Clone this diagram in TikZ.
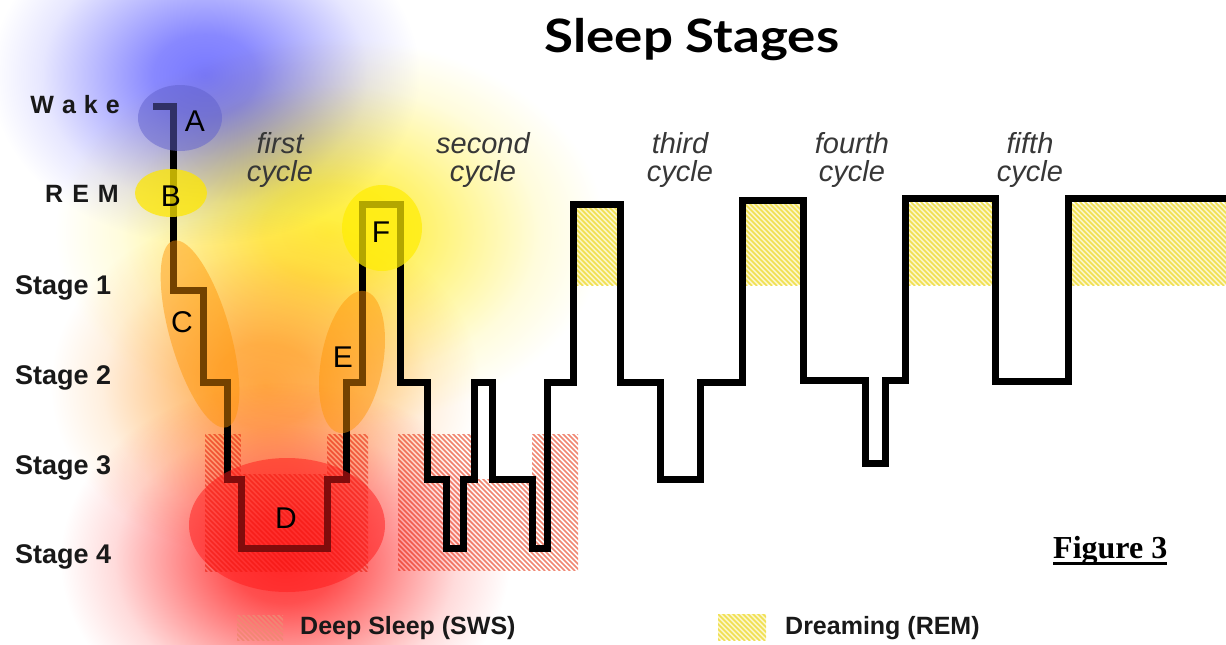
\documentclass[tikz,border=0pt]{standalone}
\usepackage{fontspec}
\setmainfont{Liberation Sans}
\newfontfamily\titlef{Lato}
\newfontfamily\serifb{Liberation Serif}
\definecolor{gblue}{RGB}{120,120,255}
\definecolor{gyellow}{RGB}{255,238,60}
\definecolor{gorange}{RGB}{255,168,72}
\definecolor{gred}{RGB}{255,55,55}
\definecolor{hatchred}{RGB}{240,135,115}
\definecolor{hatchyel}{RGB}{240,224,80}
\definecolor{paleyel}{RGB}{252,246,200}
\definecolor{cyclegray}{RGB}{55,55,55}
\definecolor{ink}{RGB}{25,25,25}
\newcommand\defglow[2]{%
  \pgfdeclareradialshading{#1}{\pgfpointorigin}{color(0bp)=(#2); color(6bp)=(#2!88!white); color(13bp)=(#2!50!white); color(19bp)=(#2!18!white); color(25bp)=(white); color(50bp)=(white)}}
\defglow{glowblue}{gblue}
\defglow{glowyellow}{gyellow}
\defglow{gloworange}{gorange}
\defglow{glowred}{gred}
\newcommand\hatchrect[5]{%
  \begin{scope}
    \clip (#1,#2) rectangle (#3,#4);
    \pgfmathsetmacro\hh{(#4)-(#2)}
    \pgfmathtruncatemacro\nn{((#3)-(#1)+(#4)-(#2))/5+2}
    \foreach \i in {0,...,\nn}{
      \draw[#5, line width=1.7pt] ({(#1)-\hh+5*\i},{(#2)-1}) -- ++({\hh+2},{\hh+2});
    }
  \end{scope}}
\begin{document}
\begin{tikzpicture}[x=1pt,y=-1pt,
  hypno/.style={line width=7pt, black, line join=miter, line cap=butt},
  stagelab/.style={font=\bfseries\fontsize{27}{30}\selectfont, text=ink, anchor=base west, inner sep=0pt},
  spacedlab/.style={font=\bfseries\fontsize{25}{30}\selectfont, text=ink, anchor=base east, inner sep=0pt},
  cyclelab/.style={font=\itshape\fontsize{29}{28}\selectfont, text=cyclegray, align=center, inner sep=0pt},
  letterlab/.style={font=\fontsize{30}{32}\selectfont, text=black, inner sep=0pt},
  legendlab/.style={font=\bfseries\fontsize{25}{28}\selectfont, text=ink, anchor=west, inner sep=0pt},
  glowstyle/.style={blend mode=multiply}
]
\useasboundingbox (0,0) rectangle (1226,645);
\fill[white] (0,0) rectangle (1226,645);

% deep sleep hatching
\hatchrect{205}{434}{368}{571}{hatchred}
\hatchrect{398}{434}{578}{570}{hatchred}
\fill[white] (241,432) rectangle (327,474);
\fill[white] (474,432) rectangle (532,479);

% dreaming hatching
\foreach \xa/\xb in {576/617, 745/800, 908/992, 1072/1226}{
  \fill[paleyel] (\xa,204) rectangle (\xb,285);
}
\hatchrect{576}{204}{617}{285}{hatchyel}
\hatchrect{745}{202}{800}{285}{hatchyel}
\hatchrect{908}{201}{992}{285}{hatchyel}
\hatchrect{1072}{201}{1226}{285}{hatchyel}

% hypnogram
\draw[hypno] (153,106) -- (173,106) -- (173,290) -- (203,290) -- (203,382) -- (227,382)
  -- (227,479) -- (241,479) -- (241,548) -- (327,548) -- (327,479) -- (346,479)
  -- (346,382) -- (362,382) -- (362,204) -- (400,204) -- (400,382) -- (427,382)
  -- (427,479) -- (446,479) -- (446,548) -- (463,548) -- (463,479) -- (474,479)
  -- (474,382) -- (492,382) -- (492,479) -- (532,479) -- (532,548) -- (547,548)
  -- (547,382) -- (573,382) -- (573,204) -- (620,204) -- (620,382) -- (660,382)
  -- (660,479) -- (700,479) -- (700,382) -- (742,382) -- (742,200) -- (803,200)
  -- (803,380) -- (865,380) -- (865,463) -- (885,463) -- (885,380) -- (905,380)
  -- (905,198) -- (995,198) -- (995,381) -- (1068,381) -- (1068,198) -- (1226,198);

% glows
\begin{scope}[glowstyle]
\shade[shading=glowblue] (205,75) ellipse (215 and 170);
\shade[shading=glowyellow] (330,232) ellipse (275 and 195);
\shade[shading=gloworange] (265,385) ellipse (215 and 175);
\shade[shading=glowred] (285,560) ellipse (225 and 178);
\end{scope}

% highlighted ellipses
\fill[gblue!80!black, fill opacity=0.5] (180,118) ellipse (42 and 33);
\fill[yellow!90!orange, fill opacity=0.75] (171,193) ellipse (36 and 24);
\fill[orange!85!yellow, fill opacity=0.45] (200,334) circle [x radius=30, y radius=97, rotate=16];
\fill[orange!85!yellow, fill opacity=0.45] (352,362) circle [x radius=31, y radius=72, rotate=-10];
\fill[red!90!white, fill opacity=0.5] (287,525) ellipse (98 and 67);
\fill[yellow!95!orange, fill opacity=0.7] (382,228) ellipse (40 and 43);

% letters
\node[letterlab] (la) at (195,121) {A};
\node[letterlab] (lb) at (171,196) {B};
\node[letterlab] (lc) at (182,322) {C};
\node[letterlab] (ld) at (286,518) {D};
\node[letterlab] (le) at (343,357) {E};
\node[letterlab] (lf) at (381,232) {F};

% axis labels
\node[spacedlab] (wake) at (120,113) {W\kern8pt a\kern8pt k\kern8pt e};
\node[spacedlab] (rem) at (119,202) {R\kern9pt E\kern9pt M};
\node[stagelab] (s1) at (15,294) {Stage 1};
\node[stagelab] (s2) at (15,384) {Stage 2};
\node[stagelab] (s3) at (15,474) {Stage 3};
\node[stagelab] (s4) at (15,563) {Stage 4};

% cycle labels
\node[cyclelab] (c1) at (280,160) {first\\cycle};
\node[cyclelab] (c2) at (483,160) {second\\cycle};
\node[cyclelab] (c3) at (680,160) {third\\cycle};
\node[cyclelab] (c4) at (852,160) {fourth\\cycle};
\node[cyclelab] (c5) at (1030,160) {fifth\\cycle};

% title
\node[font=\titlef\bfseries\fontsize{46}{52}\selectfont, text=black, inner sep=0pt] (title) at (692,40) {\scalebox{1.15}[1]{Sleep Stages}};

% figure label
\node[font=\serifb\bfseries\fontsize{32}{36}\selectfont, anchor=base west, inner sep=0pt] (fig) at (1053,558) {Figure 3};
\draw[line width=3pt] ([yshift=-5pt]fig.base west) -- ([yshift=-5pt]fig.base east);

% legend
\hatchrect{237}{615}{283}{640}{hatchred}
\fill[paleyel] (718,614) rectangle (766,640);
\hatchrect{718}{614}{766}{640}{hatchyel}
\node[legendlab] (lg1) at (300,628) {Deep Sleep (SWS)};
\node[legendlab] (lg2) at (785,628) {Dreaming (REM)};
\end{tikzpicture}
\end{document}
